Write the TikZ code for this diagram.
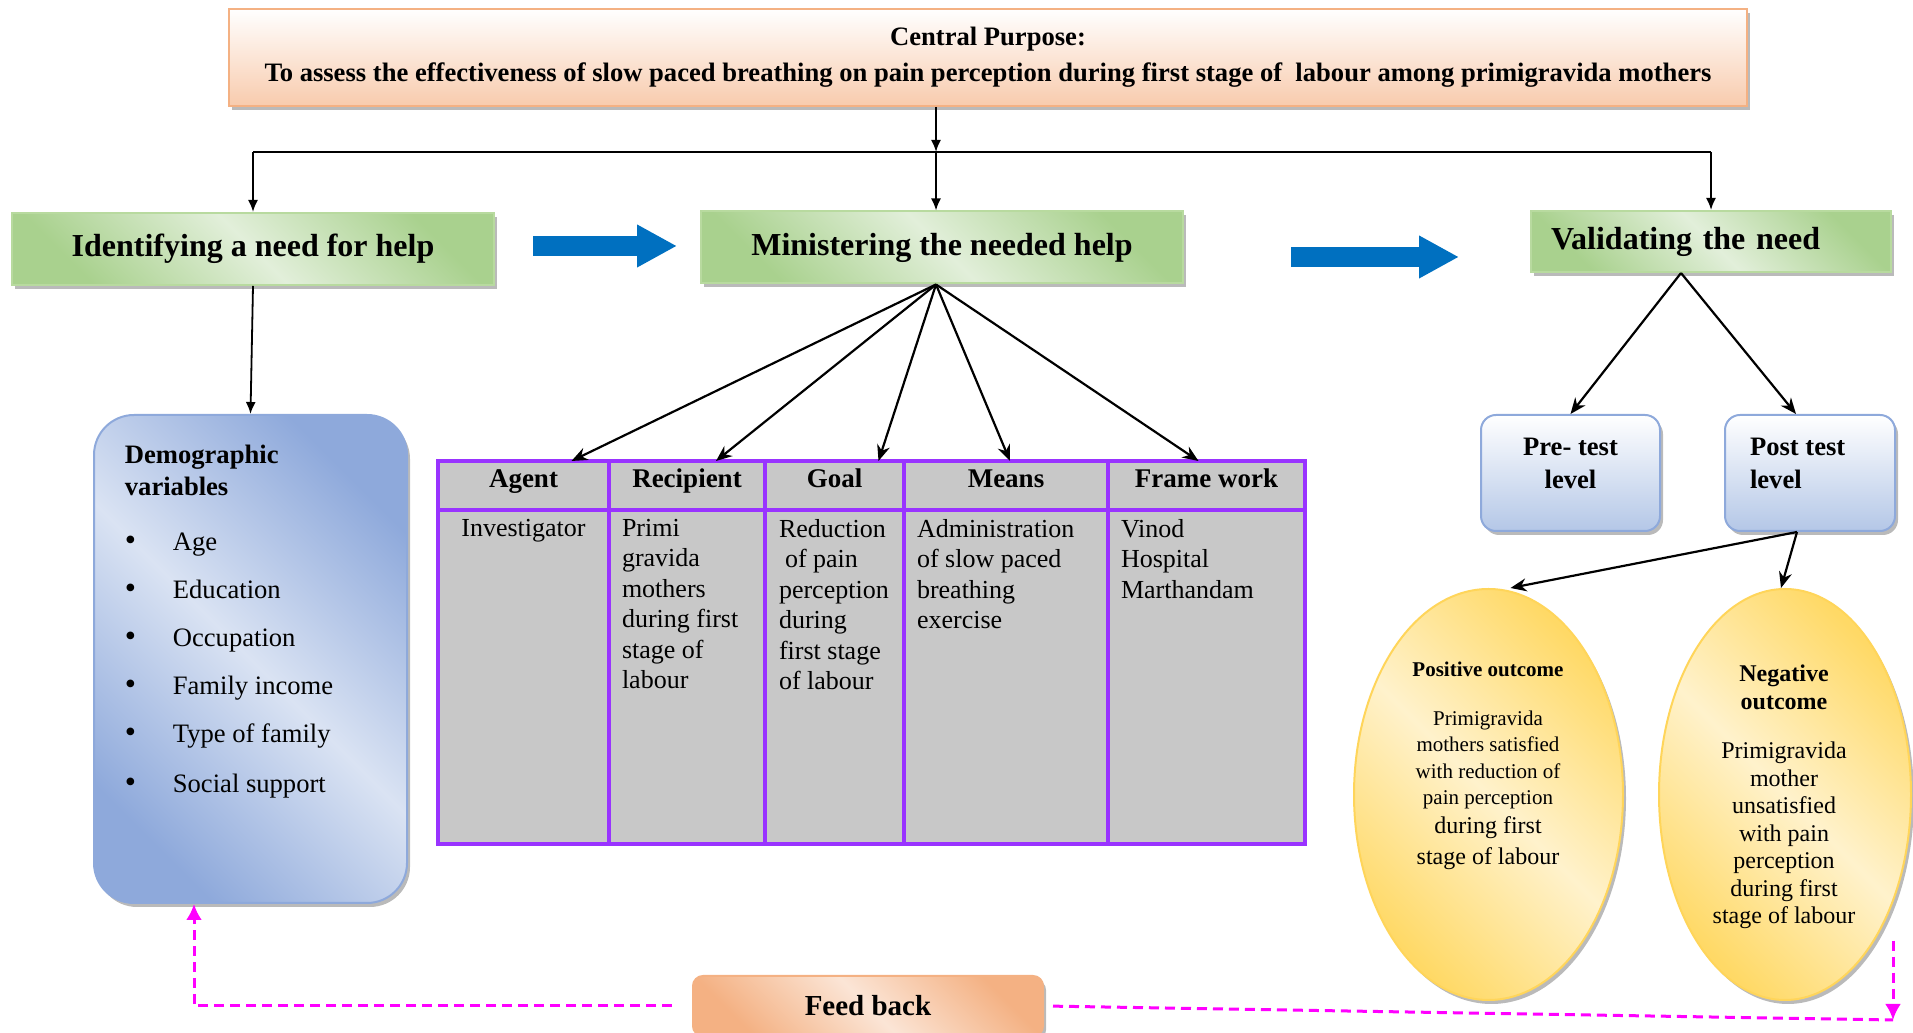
\documentclass[tikz,border=0pt]{standalone}
\usepackage{fontspec}
\setmainfont{Liberation Serif}
\usetikzlibrary{arrows.meta,positioning,shapes.geometric,shadows}

\definecolor{purposeline}{HTML}{F4B183}
\definecolor{purposefill}{HTML}{F8CBAD}
\definecolor{greendark}{HTML}{A9D18E}
\definecolor{greenlight}{HTML}{E2EFDA}
\definecolor{greenline}{HTML}{B8DA9F}
\definecolor{bluedark}{HTML}{8EA9DB}
\definecolor{bluelight}{HTML}{DAE3F3}
\definecolor{testblue}{HTML}{B4C7E7}
\definecolor{yellowdark}{HTML}{FFD966}
\definecolor{yellowlight}{HTML}{FFF2CC}
\definecolor{yellowline}{HTML}{FFD55A}
\definecolor{feeddark}{HTML}{F4B183}
\definecolor{feedlight}{HTML}{FBE5D6}
\definecolor{tableline}{HTML}{9933FF}
\definecolor{tablefill}{HTML}{C8C8C8}
\definecolor{arrowblue}{HTML}{0070C0}
\definecolor{feedbackline}{HTML}{FF00FF}

\newcommand{\bul}{\hspace*{0pt}\makebox[24pt][l]{\fontsize{16}{16}\selectfont\textbullet}}
\newcommand{\cellbox}[2]{\parbox[t][158pt][t]{#1}{\raggedright #2}}
\newcommand{\testtext}[2]{\parbox{#1}{#2\par\vspace{10pt}}}

\begin{document}
\begin{tikzpicture}[x=1pt,y=1pt,>={Latex[length=6pt,width=5pt]},line width=0.9pt,
    box shadow/.style={drop shadow={shadow xshift=1.5pt,shadow yshift=-2pt,fill=black!60,opacity=.45}},
    purpose box/.style={draw=purposeline,line width=1pt,top color=white,bottom color=purposefill,minimum width=759pt,minimum height=48.5pt,align=center,font=\fontsize{13.3}{18}\selectfont\bfseries,box shadow},
    head box/.style={draw=greenline,line width=1pt,left color=greendark,right color=greendark,middle color=greenlight,shading angle=135,minimum width=241pt,minimum height=36pt,inner sep=0pt,font=\fontsize{16}{19}\selectfont\bfseries,box shadow},
    demo box/.style={rounded corners=20pt,draw=bluedark,line width=1pt,left color=bluedark,right color=bluedark,middle color=bluelight,shading angle=135,minimum width=156.5pt,minimum height=244pt,box shadow},
    test box/.style={rounded corners=7.5pt,draw=bluedark,line width=1pt,top color=white,bottom color=testblue,minimum height=58pt,font=\fontsize{13.3}{16.5}\selectfont\bfseries,box shadow},
    outcome/.style={ellipse,draw=yellowline,line width=1pt,left color=yellowdark,right color=yellowdark,middle color=yellowlight,shading angle=135,inner sep=0pt,minimum height=205.5pt,box shadow},
    feed box/.style={rounded corners=5pt,draw=feeddark,line width=1pt,left color=feeddark,right color=feeddark,middle color=feedlight,shading angle=135,minimum width=175pt,minimum height=30pt,font=\fontsize{14.5}{17}\selectfont\bfseries,box shadow},
    hcell/.style={draw=tableline,fill=tablefill,line width=1.8pt,outer sep=0pt,inner sep=0pt,minimum height=24.5pt,text height=9.5pt,text depth=7pt,font=\fontsize{13.5}{16}\selectfont\bfseries},
    bcell/.style={draw=tableline,fill=tablefill,line width=1.8pt,outer sep=0pt,inner xsep=6.5pt,inner ysep=4.5pt,font=\fontsize{13}{15.25}\selectfont},
    fan/.style={->,line width=1.1pt,>={Stealth[length=8pt,width=6.5pt]}},
    big arrow/.style={draw=arrowblue,line width=10pt,-{Triangle[length=20pt,width=20pt]}},
    fbline/.style={draw=feedbackline,line width=1.5pt,dash pattern=on 5pt off 3pt,-{Latex[length=8pt,width=8pt]}}]

  \useasboundingbox (0,0) rectangle (956.5,516.5);

  \node[purpose box] (purpose) at (494,487.75) {Central Purpose:\\To assess the effectiveness of slow paced breathing on pain perception during first stage of~ labour among primigravida mothers};

  \node[head box] (ident) at (126.5,392) {Identifying a need for help};
  \node[head box] (minist) at (471,392.75) {Ministering the needed help};
  \node[head box,minimum width=180pt,minimum height=30.5pt,text width=160pt,align=left] (valid) at (855.5,395.75) {Validating the need};

  \coordinate (bus) at (0,440.5);
  \coordinate (ba1) at (0,393.5);
  \coordinate (ba2) at (0,388);
  \coordinate (mtop) at ([xshift=-3pt]minist.north);
  \coordinate (mfoot) at ([xshift=-3pt]minist.south);
  \draw[->] (purpose.south -| mtop) -- (bus -| mtop);
  \draw (bus -| ident.north) -- (bus -| valid.north);
  \path[->] (bus -| ident.north) edge (ident.north)
            (bus -| mtop) edge (mtop)
            (bus -| valid.north) edge (valid.north);

  \draw[big arrow,shorten <=19pt,shorten >=11.5pt] (ident.east |- ba1) -- (minist.west |- ba1);
  \draw[big arrow,shorten <=53.5pt,shorten >=35.5pt] (minist.east |- ba2) -- (valid.west |- ba2);

  \node[demo box] (demo) at (125.25,187) {};
  \node[anchor=north west,inner sep=0pt,align=left,font=\fontsize{13.3}{16}\selectfont] (demotxt) at (62,294.5)
    {\textbf{Demographic}\\\textbf{variables}\\[11.5pt]\bul Age\\[8pt]\bul Education\\[8pt]\bul Occupation\\[8pt]\bul Family income\\[8pt]\bul Type of family\\[9pt]\bul Social support};
  \path[->] (ident.south) edge (demo.north);

  \node[hcell,minimum width=85.5pt,anchor=north west] (agent) at (219,286) {Agent};
  \node[hcell,minimum width=78pt,right=0pt of agent] (recip) {Recipient};
  \node[hcell,minimum width=69.5pt,right=0pt of recip] (goal) {Goal};
  \node[hcell,minimum width=102pt,right=0pt of goal] (means) {Means};
  \node[hcell,minimum width=98.5pt,right=0pt of means] (frame) {Frame work};

  \node[bcell,below=0pt of agent] (agentb) {\cellbox{72.5pt}{\centering Investigator}};
  \node[bcell,below=0pt of recip] (recipb) {\cellbox{65pt}{Primi\\gravida\\mothers\\during first\\stage of\\labour}};
  \node[bcell,below=0pt of goal,inner xsep=7pt] (goalb) {\cellbox{55.5pt}{Reduction\\\hspace*{3pt}of pain\\perception\\during\\first stage\\of labour}};
  \node[bcell,below=0pt of means] (meansb) {\cellbox{89pt}{Administration\\of slow paced\\breathing\\exercise}};
  \node[bcell,below=0pt of frame] (frameb) {\cellbox{85.5pt}{Vinod\\Hospital\\Marthandam}};

  \path[fan] (mfoot) edge ([xshift=24pt]agent.north)
             (mfoot) edge ([xshift=14.5pt]recip.north)
             (mfoot) edge ([xshift=22pt]goal.north)
             (mfoot) edge ([xshift=2pt]means.north)
             (mfoot) edge ([xshift=-4pt]frame.north);

  \node[test box,minimum width=89.5pt] (pre) at (785.25,280) {\testtext{70pt}{\centering Pre- test\\level}};
  \node[test box,minimum width=85pt] (post) at (905,280) {\testtext{60pt}{\raggedright Post test\\level}};
  \path[fan] ([xshift=-15pt]valid.south) edge (pre.north)
             ([xshift=-15pt]valid.south) edge ([xshift=-7pt]post.north);

  \node[outcome,minimum width=134.5pt] (pos) at (744.25,119.25) {};
  \node[outcome,minimum width=126pt] (neg) at (892.5,119.25) {};
  \node[anchor=north,align=center,inner sep=0pt,font=\fontsize{10.5}{13.3}\selectfont] (postxt) at (744,186)
    {\textbf{Positive outcome}\\[11pt]Primigravida\\mothers satisfied\\with reduction of\\pain perception\\[1pt]{\fontsize{12}{14.5}\selectfont during first}\\[2pt]{\fontsize{12}{14.5}\selectfont stage of labour}};
  \node[anchor=north,align=center,inner sep=0pt,font=\fontsize{12}{13.75}\selectfont] (negtxt) at (892,184.5)
    {\textbf{Negative}\\\textbf{outcome}\\[11pt]Primigravida\\mother\\unsatisfied\\with pain\\perception\\during first\\stage of labour};
  \path[fan] ([xshift=-6.5pt]post.south) edge ([xshift=11pt]pos.north)
             ([xshift=-6.5pt]post.south) edge ([xshift=-2pt]neg.north);

  \node[feed box] (feed) at (434,13.5) {Feed back};
  \coordinate (fbcorner) at (946.5,6.5);
  \draw[fbline,shorten <=10pt] (feed.west) -| ([xshift=-28.25pt]demo.south);
  \draw[fbline,-,shorten <=4.5pt] (feed.east) -- (fbcorner);
  \draw[fbline] (neg.south east -| fbcorner) -- (fbcorner);

\end{tikzpicture}
\end{document}
